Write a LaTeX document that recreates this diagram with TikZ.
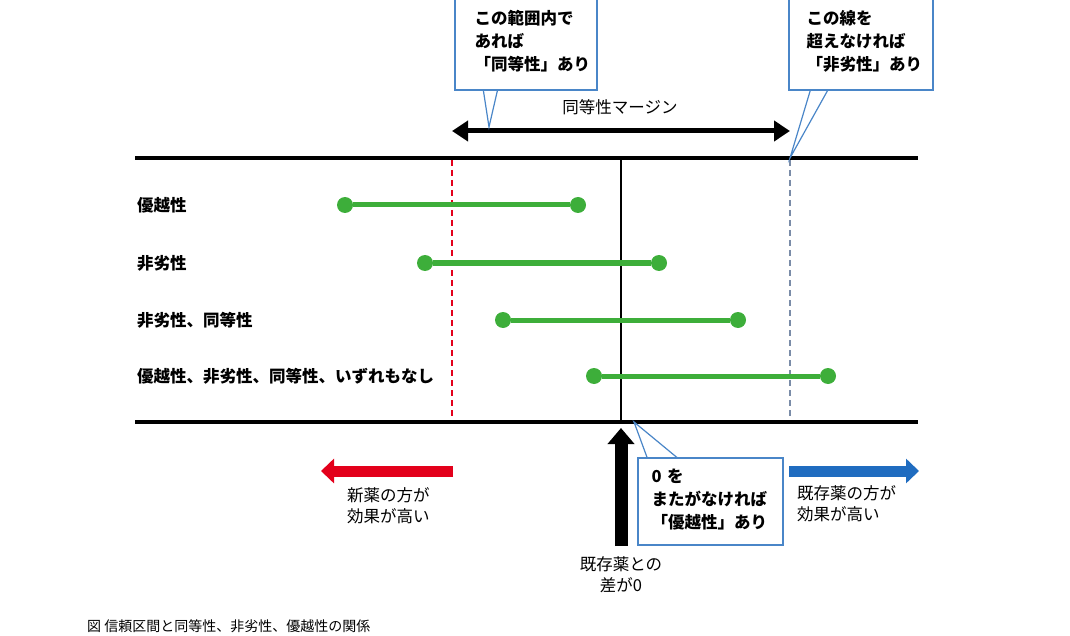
\documentclass[tikz,border=0pt]{standalone}
\usepackage{fontspec}
\setmainfont{Noto Sans CJK JP}
\usetikzlibrary{arrows.meta,positioning}
\definecolor{ciGreen}{HTML}{3DAE3A}
\definecolor{calloutBlue}{HTML}{4A86C8}
\definecolor{marginGray}{HTML}{7A8CA8}
\definecolor{newRed}{HTML}{E3001B}
\definecolor{oldBlue}{HTML}{1F6CC0}
\begin{document}
\begin{tikzpicture}[x=1pt,y=-1pt,
    rowlabel/.style={anchor=west,font=\bfseries\fontsize{16.5}{18}\selectfont,inner sep=0pt},
    ci/.style={ciGreen,line width=5pt},
    cidot/.style={circle,fill=ciGreen,minimum size=16pt,inner sep=0pt},
    axis/.style={line width=4pt},
    callout/.style={draw=calloutBlue,fill=white,line width=1.2pt,align=left,inner sep=0pt,
        font=\bfseries\fontsize{16.5}{23}\selectfont,text width=140pt},
    note/.style={align=left,font=\fontsize{16.5}{21}\selectfont,inner sep=0pt},
    fatarrow/.style={line width=11pt,-{Triangle[length=13pt,width=24pt]}},
    longdash/.style={dash pattern=on 6pt off 4pt,line width=1.5pt}
    ]
    \useasboundingbox (0,0) rectangle (1070,636);
    % frame lines
    \coordinate (topL) at (135,158); \coordinate (topR) at (918,158);
    \coordinate (botL) at (135,422); \coordinate (botR) at (918,422);
    \coordinate (redT) at (452,160); \coordinate (redB) at (452,420);
    \coordinate (grayT) at (790,160); \coordinate (grayB) at (790,420);
    \coordinate (zeroT) at (621,158); \coordinate (zeroB) at (621,422);
    \draw[newRed,longdash] (redT) -- (redB);
    \draw[marginGray,longdash] (grayT) -- (grayB);
    \draw[line width=2pt] (zeroT) -- (zeroB);
    \draw[axis] (topL) -- (topR);
    \draw[axis] (botL) -- (botR);
    % confidence intervals
    \foreach \y/\a/\b/\txt in {205/345/578/優越性, 263/425/659/非劣性,
        320/503/738/{非劣性、同等性}, 376/594/828/{優越性、非劣性、同等性、いずれもなし}}{
      \node[rowlabel] (lab\y) at (137,\y) {\txt};
      \node[cidot] (lo\y) at (\a,\y) {};
      \node[cidot] (hi\y) at (\b,\y) {};
      \draw[ci] (lo\y) -- (hi\y);
    }
    % margin arrow
    \coordinate (mL) at (452,131); \coordinate (mR) at (790,131);
    \draw[line width=5pt,{Triangle[length=16pt,width=20pt]}-{Triangle[length=16pt,width=20pt]}] (mL) -- (mR);
    \node[note] (marginlab) at (620,107) {同等性マージン};
    % callouts
    \draw[calloutBlue,fill=white,line width=1.2pt] (483,88) -- (489,127) -- (498,88);
    \node[callout,minimum width=142pt,minimum height=92pt] (eqbox) at (526,44) {};
    \node[callout,anchor=north west,draw=none,fill=none] (eqtxt) at (474,10) {この範囲内で\\あれば\\「同等性」あり};
    \draw[calloutBlue,fill=white,line width=1.2pt] (811,88) -- (790,158) -- (829,88);
    \node[callout,minimum width=144pt,minimum height=92pt] (nibox) at (861,44) {};
    \node[callout,anchor=north west,draw=none,fill=none] (nitxt) at (806,10) {この線を\\超えなければ\\「非劣性」あり};
    \draw[calloutBlue,fill=white,line width=1.2pt] (648,460) -- (634,422) -- (680,460);
    \node[callout,minimum width=145pt,minimum height=87pt] (supbox) at (710.5,501.5) {};
    \node[callout,anchor=north west,draw=none,fill=none] (suptxt) at (651,468) {0 を\\またがなければ\\「優越性」あり};
    % direction arrows
    \coordinate (zeroArrB) at (621,546); \coordinate (zeroArrT) at (621,428);
    \draw[fatarrow,line width=13pt,-{Triangle[length=16pt,width=26pt]}] (zeroArrB) -- (zeroArrT);
    \node[note,align=center] (zerolab) at (621,575) {既存薬との\\差が0};
    \coordinate (redS) at (453,471); \coordinate (redE) at (321,471);
    \draw[fatarrow,newRed] (redS) -- (redE);
    \node[note,anchor=north west] (newlab) at (347,487) {新薬の方が\\効果が高い};
    \coordinate (blueS) at (789,471); \coordinate (blueE) at (919,471);
    \draw[fatarrow,oldBlue] (blueS) -- (blueE);
    \node[note,anchor=north west] (oldlab) at (797,485) {既存薬の方が\\効果が高い};
    % caption
    \node[anchor=west,inner sep=0pt,font=\fontsize{14}{16}\selectfont] (caption) at (87,626) {図 信頼区間と同等性、非劣性、優越性の関係};
\end{tikzpicture}
\end{document}
